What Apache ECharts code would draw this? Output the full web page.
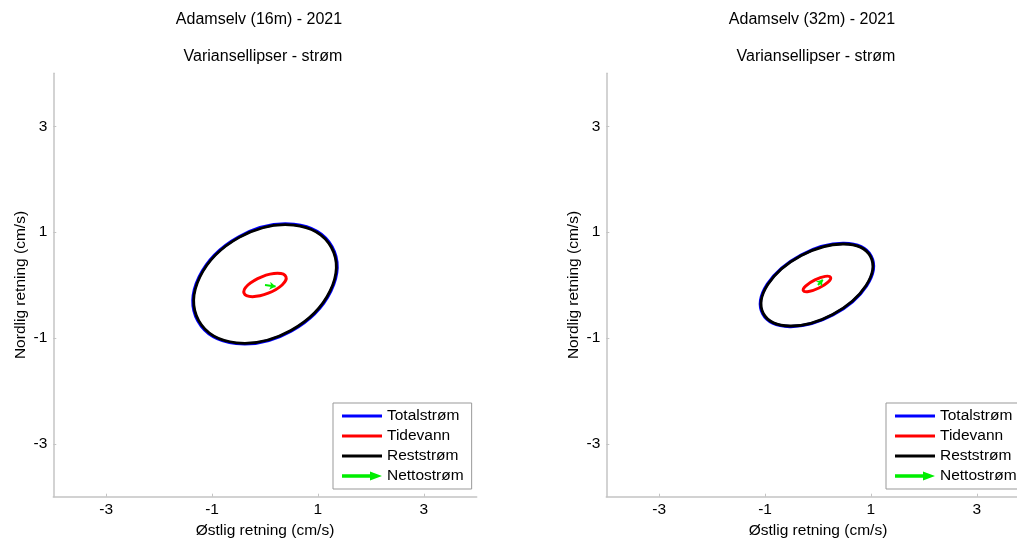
<!DOCTYPE html>
<html>
<head>
<meta charset="utf-8">
<script src="https://cdn.jsdelivr.net/npm/echarts@6/dist/echarts.min.js"></script>
<style>
  html, body { margin: 0; padding: 0; background: #ffffff; }
  #chart { width: 1017px; height: 540px; }
</style>
</head>
<body>
<div id="chart"></div>
<script>
// Station titles and shared labels
const stations = ['Adamselv (16m) - 2021', 'Adamselv (32m) - 2021'];
const subtitle = 'Variansellipser - strøm';
const seriesNames = ['Totalstrøm', 'Tidevann', 'Reststrøm', 'Nettostrøm'];
const tickValues = [-3, -1, 1, 3];

// Variance ellipses per station: [centreEast, centreNorth, semiMajor, semiMinor, orientationDeg]
const totalEllipse = [[0.0, 0.02, 1.448, 1.018, 29], [-0.02, 0.0, 1.160, 0.640, 28]];
const tideEllipse = [[0.0, 0.0, 0.425, 0.167, 21.5], [-0.02, 0.02, 0.287, 0.085, 26]];
const residualEllipse = [[0.0, 0.02, 1.432, 1.006, 29], [-0.02, 0.0, 1.147, 0.631, 28]];

// Mean (net) current vector per station: [east, north]
const netCurrent = [[0.20, -0.03], [0.09, 0.10]];

const colors = { total: '#0000ff', tide: '#ff0000', residual: '#000000', net: '#00ee00' };
const FONT = '"Liberation Sans", Arial, sans-serif';

const gridLeft = [53.3, 606.3];
const gridTop = 73.3;
const gridSize = 423.4;
const legendLeft = [333, 886];

function ellipseSeries(name, data, color, width, idx, z) {
  return {
    name: name,
    type: 'custom',
    xAxisIndex: idx,
    yAxisIndex: idx,
    z: z,
    silent: true,
    itemStyle: { color: color },
    data: [data[idx]],
    renderItem: function (params, api) {
      const c = api.coord([api.value(0), api.value(1)]);
      const unitX = api.size([1, 0])[0];
      const unitY = api.size([0, 1])[1];
      return {
        type: 'ellipse',
        shape: { cx: 0, cy: 0, rx: api.value(2) * unitX, ry: api.value(3) * unitY },
        x: c[0],
        y: c[1],
        rotation: api.value(4) * Math.PI / 180,
        style: { fill: 'none', stroke: color, lineWidth: width }
      };
    }
  };
}

const grids = [], xAxes = [], yAxes = [], series = [], legends = [], graphics = [];

for (let i = 0; i < 2; i++) {
  grids.push({
    left: gridLeft[i], top: gridTop, width: gridSize, height: gridSize,
    containLabel: false, outerBoundsMode: 'none'
  });

  const axisCommon = {
    min: -4, max: 4,
    gridIndex: i,
    splitLine: { show: false },
    axisLine: { show: true, onZero: false, lineStyle: { color: '#c4c4c4', width: 1.5 } },
    axisTick: { show: true, inside: true, length: 3, customValues: tickValues, lineStyle: { color: '#c4c4c4' } },
    axisLabel: { customValues: tickValues, color: '#000', fontSize: 15.5, fontFamily: FONT },
    nameLocation: 'middle',
    nameTextStyle: { color: '#000', fontSize: 15.5, fontFamily: FONT }
  };
  xAxes.push(Object.assign({}, axisCommon, {
    type: 'value', position: 'bottom',
    name: 'Østlig retning (cm/s)', nameGap: 23,
    axisLabel: Object.assign({}, axisCommon.axisLabel, { margin: 5 })
  }));
  yAxes.push(Object.assign({}, axisCommon, {
    type: 'value', position: 'left',
    name: 'Nordlig retning (cm/s)', nameGap: 25,
    axisLabel: Object.assign({}, axisCommon.axisLabel, { margin: 6 })
  }));

  series.push(ellipseSeries(seriesNames[0], totalEllipse, colors.total, 3.2, i, 2));
  series.push(ellipseSeries(seriesNames[1], tideEllipse, colors.tide, 3, i, 3));
  series.push(ellipseSeries(seriesNames[2], residualEllipse, colors.residual, 2.8, i, 4));
  series.push({
    name: seriesNames[3],
    type: 'lines',
    coordinateSystem: 'cartesian2d',
    xAxisIndex: i,
    yAxisIndex: i,
    z: 5,
    silent: true,
    symbol: ['none', 'arrow'],
    symbolSize: 6,
    lineStyle: { color: colors.net, width: 2, opacity: 1 },
    itemStyle: { color: colors.net },
    data: [{ coords: [[0, 0], netCurrent[i]] }]
  });

  const barIcon = 'path://M0,0 L40,0 L40,3 L0,3 Z';
  legends.push({
    orient: 'vertical',
    left: legendLeft[i],
    top: 403,
    itemWidth: 40,
    itemHeight: 14,
    itemGap: 4,
    padding: [5, 8, 5, 9],
    borderColor: '#999',
    borderWidth: 1,
    selectedMode: false,
    textStyle: { color: '#000', fontSize: 15.5, fontFamily: FONT, lineHeight: 14 },
    data: [
      { name: seriesNames[0], icon: barIcon, itemStyle: { color: colors.total, borderWidth: 0 } },
      { name: seriesNames[1], icon: barIcon, itemStyle: { color: colors.tide, borderWidth: 0 } },
      { name: seriesNames[2], icon: barIcon, itemStyle: { color: colors.residual, borderWidth: 0 } },
      {
        name: seriesNames[3],
        icon: 'path://M0,2.75 L28,2.75 L28,0 L40,4.5 L28,9 L28,6.25 L0,6.25 Z',
        itemStyle: { color: colors.net, borderWidth: 0 }
      }
    ]
  });

  const centreX = gridLeft[i] + gridSize / 2;
  graphics.push({
    type: 'text', x: centreX - 6, y: 20,
    style: { text: stations[i], fill: '#000', font: '16px ' + FONT, textAlign: 'center', textVerticalAlign: 'middle' }
  });
  graphics.push({
    type: 'text', x: centreX - 2, y: 57,
    style: { text: subtitle, fill: '#000', font: '16px ' + FONT, textAlign: 'center', textVerticalAlign: 'middle' }
  });
}

const chart = echarts.init(document.getElementById('chart'), null, { renderer: 'canvas' });
chart.setOption({
  animation: false,
  backgroundColor: '#ffffff',
  grid: grids,
  xAxis: xAxes,
  yAxis: yAxes,
  legend: legends,
  graphic: graphics,
  series: series
});
</script>
</body>
</html>
